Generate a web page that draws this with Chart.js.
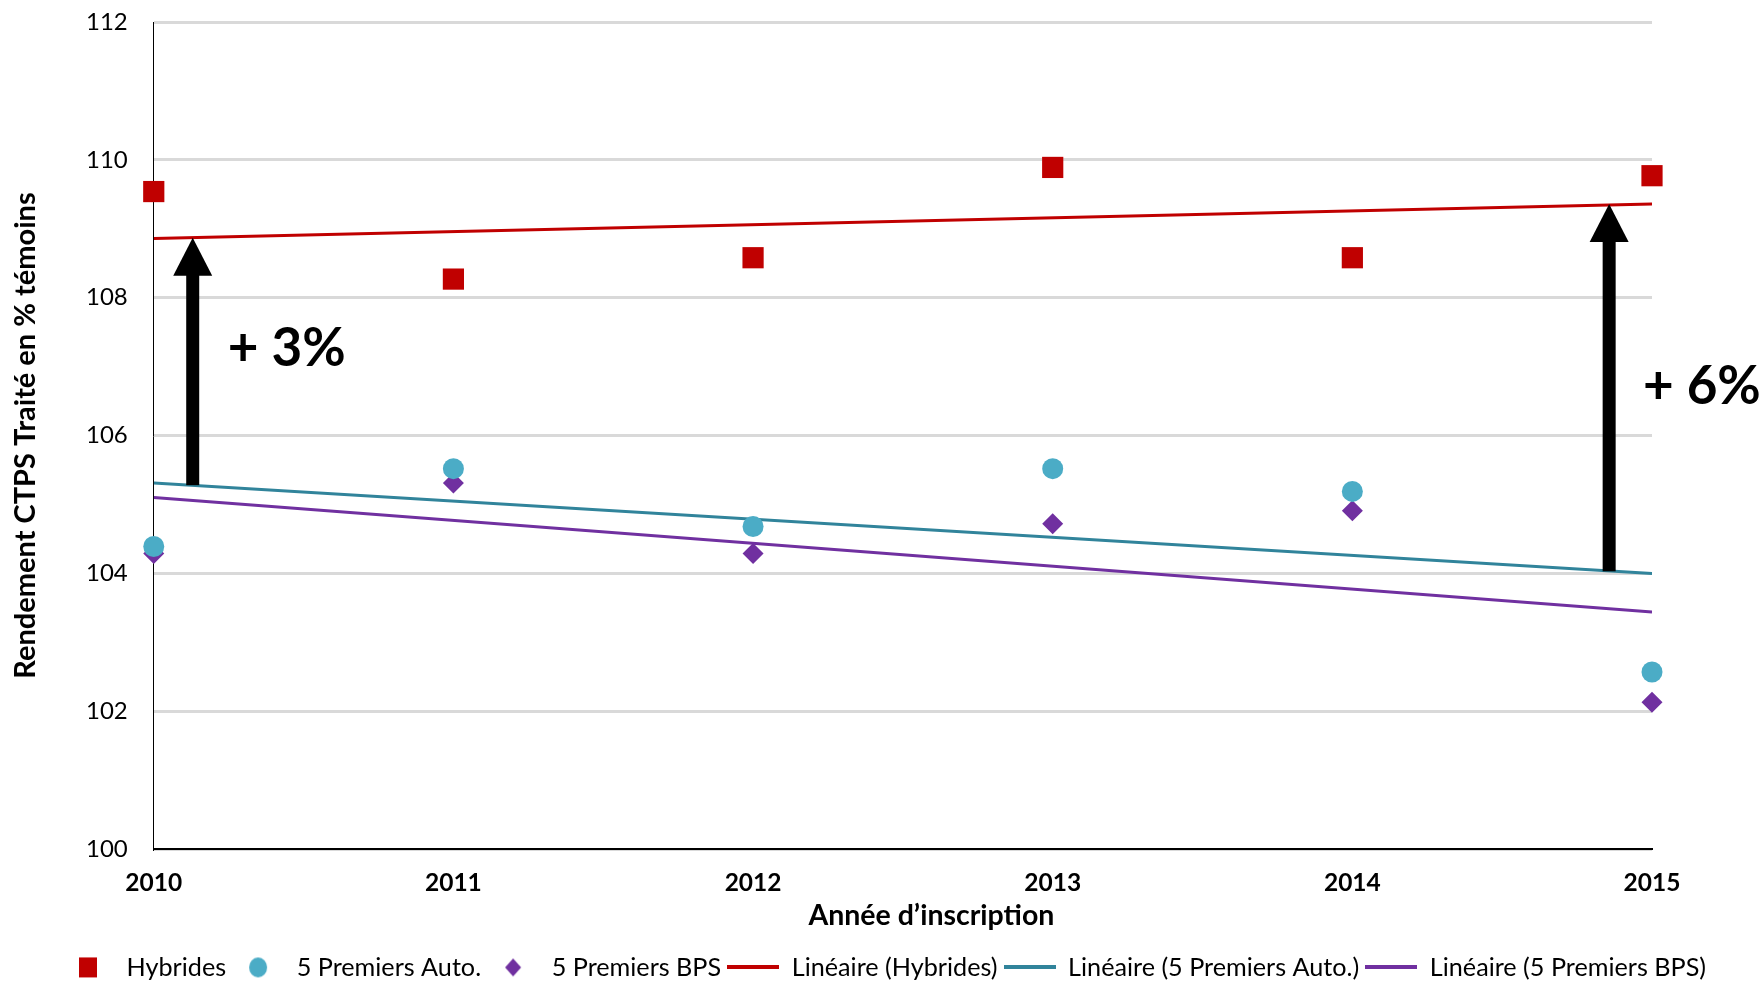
<!DOCTYPE html>
<html>
<head>
<meta charset="utf-8">
<script src="https://cdn.jsdelivr.net/npm/chart.js@4.4.1/dist/chart.umd.min.js"></script>
<style>
  html, body { margin: 0; padding: 0; background: #fff; }
  #wrap { width: 1760px; height: 982px; }
</style>
</head>
<body>
<div id="wrap"><canvas id="chart"></canvas></div>
<script>
// data
const years = [2010, 2011, 2012, 2013, 2014, 2015];
const hybrides = [109.54, 108.27, 108.58, 109.89, 108.58, 109.77];
const premiersAuto = [104.39, 105.52, 104.68, 105.52, 105.19, 102.57];
const premiersBps = [104.29, 105.31, 104.29, 104.72, 104.91, 102.13];

// trend lines (Excel "Linéaire"), end points
const trendYears = [2010, 2015];
const trendHybrides = [108.86, 109.36];
const trendAuto = [105.31, 104.00];
const trendBps = [105.10, 103.44];

const yTicks = [100, 102, 104, 106, 108, 110, 112];
const seriesNames = ['Hybrides', '5 Premiers Auto.', '5 Premiers BPS',
    'Linéaire (Hybrides)', 'Linéaire (5 Premiers Auto.)', 'Linéaire (5 Premiers BPS)'];

// arrows between the trend lines and their labels
const arrowYears = [2010.13, 2014.857];
const arrowFrom = [105.28, 104.03];
const arrowTo = [108.87, 109.36];
const arrowLabels = ['+ 3%', '+ 6%'];

const RED = '#c00000';
const TEAL = '#4bacc6';
const TEAL_LINE = '#31849b';
const PURPLE = '#7030a0';
const FONT = 'Lato';

function pts(xs, ys) {
    return xs.map((x, i) => ({ x: x, y: ys[i] }));
}

// small canvases used as legend symbols
function legendIcon(kind, color) {
    const c = document.createElement('canvas');
    const ctx = c.getContext('2d');
    if (kind === 'line') {
        c.width = 52; c.height = 4;
        ctx.fillStyle = color;
        ctx.fillRect(0, 0, 52, 4);
        return c;
    }
    c.width = 22; c.height = 22;
    ctx.fillStyle = color;
    if (kind === 'rect') {
        ctx.fillRect(2, 1, 18, 20);
    } else if (kind === 'circle') {
        ctx.beginPath();
        ctx.ellipse(11, 11, 9, 10, 0, 0, Math.PI * 2);
        ctx.fill();
    } else {
        ctx.beginPath();
        ctx.moveTo(11, 2); ctx.lineTo(19, 11); ctx.lineTo(11, 20); ctx.lineTo(3, 11);
        ctx.closePath();
        ctx.fill();
    }
    return c;
}

const legendIcons = [
    legendIcon('rect', RED), legendIcon('circle', TEAL), legendIcon('diamond', PURPLE),
    legendIcon('line', RED), legendIcon('line', TEAL_LINE), legendIcon('line', PURPLE)
];

const arrowPlugin = {
    id: 'arrows',
    afterDatasetsDraw(chart) {
        const ctx = chart.ctx;
        const xs = chart.scales.x;
        const ys = chart.scales.y;
        ctx.save();
        ctx.fillStyle = '#000';
        arrowYears.forEach((yr, i) => {
            const x = xs.getPixelForValue(yr);
            const yBottom = ys.getPixelForValue(arrowFrom[i]);
            const yTip = ys.getPixelForValue(arrowTo[i]);
            const shaft = 13, head = 39, headH = 38;
            ctx.fillRect(x - shaft / 2, yTip + headH - 1, shaft, yBottom - yTip - headH + 1);
            ctx.beginPath();
            ctx.moveTo(x, yTip);
            ctx.lineTo(x + head / 2, yTip + headH);
            ctx.lineTo(x - head / 2, yTip + headH);
            ctx.closePath();
            ctx.fill();
        });
        ctx.font = 'bold 53px ' + FONT;
        ctx.textBaseline = 'middle';
        ctx.textAlign = 'left';
        ctx.fillText(arrowLabels[0], xs.getPixelForValue(2010.247), ys.getPixelForValue(107.26));
        ctx.fillText(arrowLabels[1], xs.getPixelForValue(2014.97), ys.getPixelForValue(106.71));
        ctx.restore();
    }
};

Chart.defaults.font.family = FONT;
Chart.defaults.color = '#000';

new Chart(document.getElementById('chart'), {
    type: 'scatter',
    data: {
        datasets: [
            {
                label: seriesNames[0],
                data: pts(years, hybrides),
                pointStyle: 'rect',
                pointRadius: 15,
                pointHoverRadius: 15,
                backgroundColor: RED,
                borderWidth: 0,
                clip: false
            },
            {
                label: seriesNames[1],
                data: pts(years, premiersAuto),
                pointStyle: 'circle',
                pointRadius: 10.5,
                pointHoverRadius: 10.5,
                backgroundColor: TEAL,
                borderWidth: 0,
                clip: false
            },
            {
                label: seriesNames[2],
                data: pts(years, premiersBps),
                pointStyle: 'rectRot',
                pointRadius: 10.5,
                pointHoverRadius: 10.5,
                backgroundColor: PURPLE,
                borderWidth: 0,
                clip: false
            },
            {
                label: seriesNames[3],
                data: pts(trendYears, trendHybrides),
                showLine: true,
                borderColor: RED,
                borderWidth: 3,
                pointRadius: 0
            },
            {
                label: seriesNames[4],
                data: pts(trendYears, trendAuto),
                showLine: true,
                borderColor: TEAL_LINE,
                borderWidth: 3,
                pointRadius: 0
            },
            {
                label: seriesNames[5],
                data: pts(trendYears, trendBps),
                showLine: true,
                borderColor: PURPLE,
                borderWidth: 3,
                pointRadius: 0
            }
        ]
    },
    options: {
        responsive: true,
        maintainAspectRatio: false,
        animation: false,
        layout: { padding: { left: 8, right: 0, top: 22, bottom: -8 } },
        plugins: {
            tooltip: { enabled: false },
            legend: {
                position: 'bottom',
                labels: {
                    usePointStyle: true,
                    pointStyleWidth: 52,
                    padding: 6,
                    font: { size: 25.2 },
                    color: '#000',
                    generateLabels(chart) {
                        return chart.data.datasets.map((ds, i) => ({
                            text: ds.label,
                            pointStyle: legendIcons[i],
                            fillStyle: 'transparent',
                            strokeStyle: 'transparent',
                            lineWidth: 0,
                            hidden: false,
                            datasetIndex: i
                        }));
                    }
                }
            }
        },
        scales: {
            x: {
                type: 'linear',
                min: 2010,
                max: 2015,
                afterBuildTicks(scale) {
                    scale.ticks = years.map(v => ({ value: v }));
                },
                ticks: {
                    padding: 2,
                    font: { size: 24.5, weight: 'bold', lineHeight: 1 },
                    callback: v => String(v)
                },
                grid: { display: false, drawTicks: true, tickLength: 20, tickColor: 'transparent' },
                border: { display: true, color: '#000', width: 2 },
                title: {
                    display: true,
                    // leading en spaces push the title a little right of the plot centre, as in the original
                    text: '\u2002\u2002\u2002\u2002Année d’inscription',
                    font: { size: 28.5, weight: 'bold' },
                    padding: { top: 1, bottom: 16 }
                }
            },
            y: {
                min: 100,
                max: 112,
                afterBuildTicks(scale) {
                    scale.ticks = yTicks.map(v => ({ value: v }));
                },
                ticks: {
                    padding: 4,
                    font: { size: 24 },
                    callback: v => String(v)
                },
                grid: { color: '#d9d9d9', lineWidth: 3, drawTicks: true, tickLength: 22, tickColor: 'transparent' },
                border: { display: true, color: '#000', width: 1 },
                title: {
                    display: true,
                    text: 'Rendement CTPS Traité en % témoins',
                    font: { size: 29, weight: 'bold' },
                    padding: { top: 0, bottom: 39.2 }
                }
            },
            // empty band on the right, where "+ 6%" overhangs the plot
            yRight: {
                position: 'right',
                min: 100,
                max: 112,
                ticks: { display: false },
                grid: { display: false, drawTicks: false },
                border: { display: false },
                afterFit(scale) { scale.width = 108; }
            }
        }
    },
    plugins: [arrowPlugin]
});
</script>
</body>
</html>
